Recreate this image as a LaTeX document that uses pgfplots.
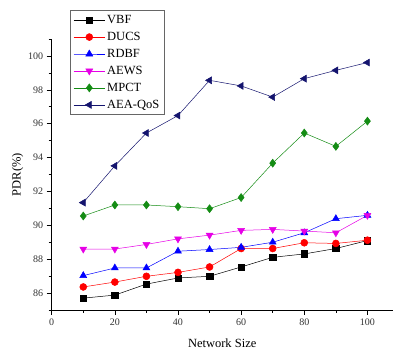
\documentclass[border=0pt]{standalone}
\usepackage{pgfplots}
\pgfplotsset{compat=1.18}
\usepackage{fontspec}
\setmainfont{Liberation Serif}
\definecolor{mgreen}{RGB}{20,140,20}
\definecolor{navy}{RGB}{20,20,110}
\definecolor{mag}{RGB}{230,0,230}
\begin{document}
\begin{tikzpicture}[x=1pt,y=1pt]
\begin{axis}[
  at={(0,0)}, anchor=origin,
  scale only axis, width=341pt, height=271pt,
  xmin=0, xmax=108, ymin=85, ymax=101,
  axis x line*=bottom, axis y line*=left,
  axis line style={line width=0.8pt},
  xtick={0,20,...,100}, minor xtick={10,30,...,90,110},
  ytick={86,88,...,100}, minor ytick={85,87,...,101},
  tick align=outside, major tick length=5pt, minor tick length=3pt,
  tick style={line width=0.6pt,black},
  ticklabel style={font=\fontsize{10}{11}\selectfont, text=black!80},
  /pgf/number format/assume math mode=true,
  xlabel={Network Size}, ylabel={PDR(\%)},
  every axis x label/.style={at={(axis description cs:0.5,0)}, anchor=center, yshift=-33pt, font=\fontsize{12.5}{14}\selectfont},
  every axis y label/.style={at={(axis description cs:0,0.5)}, rotate=90, anchor=center, yshift=34pt, font=\fontsize{12.5}{14}\selectfont},
  clip=false,
  legend style={at={(rel axis cs:0.054,1.107)}, anchor=north west, draw=black!60, line width=0.6pt,
     font=\fontsize{12.5}{13}\selectfont, row sep=3.2pt, inner xsep=3pt, inner ysep=3pt},
  legend cell align=left,
  legend image code/.code={\draw[mark repeat=2,mark phase=2] plot coordinates {(0cm,0cm)(0.55cm,0cm)(1.1cm,0cm)};},
  every axis plot/.append style={line width=0.5pt},
]
\addplot[black, mark=square*, mark size=3.2pt, mark options={fill=black}] coordinates {
(10,85.70)(20,85.88)(30,86.53)(40,86.89)(50,86.99)(60,87.54)(70,88.11)(80,88.31)(90,88.63)(100,89.10)};
\addlegendentry{VBF}
\addplot[red, mark=*, mark size=3.5pt, mark options={fill=red}] coordinates {
(10,86.36)(20,86.65)(30,86.99)(40,87.22)(50,87.54)(60,88.63)(70,88.63)(80,88.97)(90,88.93)(100,89.12)};
\addlegendentry{DUCS}
\addplot[blue, mark=triangle*, mark size=4pt, mark options={fill=blue}] coordinates {
(10,87.03)(20,87.48)(30,87.48)(40,88.47)(50,88.57)(60,88.70)(70,89.00)(80,89.56)(90,90.39)(100,90.59)};
\addlegendentry{RDBF}
\addplot[mag, mark=triangle*, mark size=4pt, mark options={fill=mag, rotate=180}] coordinates {
(10,88.60)(20,88.60)(30,88.87)(40,89.20)(50,89.42)(60,89.70)(70,89.76)(80,89.66)(90,89.56)(100,90.59)};
\addlegendentry{AEWS}
\addplot[mgreen, mark=diamond*, mark size=4pt, mark options={fill=mgreen}] coordinates {
(10,90.55)(20,91.20)(30,91.20)(40,91.10)(50,90.98)(60,91.64)(70,93.67)(80,95.45)(90,94.66)(100,96.15)};
\addlegendentry{MPCT}
\addplot[navy, mark=triangle*, mark size=4pt, mark options={fill=navy, rotate=90}] coordinates {
(10,91.34)(20,93.51)(30,95.45)(40,96.48)(50,98.56)(60,98.23)(70,97.57)(80,98.66)(90,99.15)(100,99.61)};
\addlegendentry{AEA-QoS}
\end{axis}
\path (-51.7,-43) rectangle (342.3,310);
\end{tikzpicture}
\end{document}
